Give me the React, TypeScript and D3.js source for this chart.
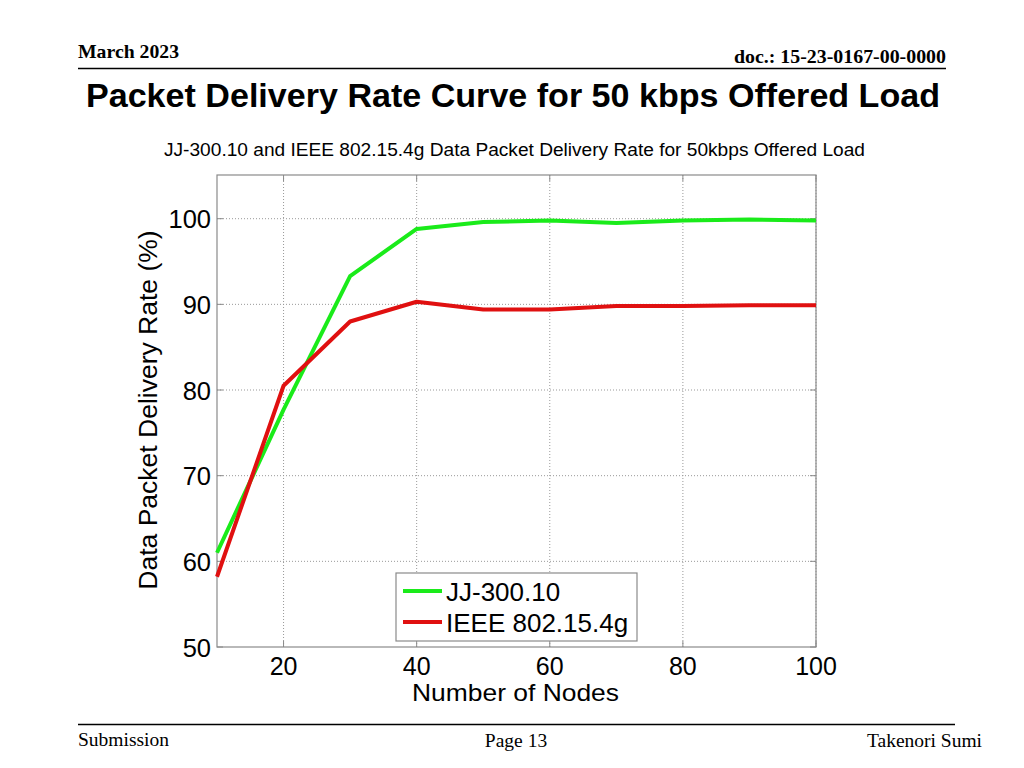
import React from "react";
import * as d3 from "d3";

const nodes = [10, 20, 30, 40, 50, 60, 70, 80, 90, 100];
const jjRate = [61.0, 77.7, 93.3, 98.8, 99.6, 99.8, 99.5, 99.8, 99.9, 99.8];
const ieeeRate = [58.2, 80.5, 88.0, 90.3, 89.4, 89.4, 89.8, 89.8, 89.9, 89.9];
const xTicks = [20, 40, 60, 80, 100];
const yTicks = [50, 60, 70, 80, 90, 100];
const seriesNames = ["JJ-300.10", "IEEE 802.15.4g"];
const seriesColors = ["#1aeb1a", "#e01010"];

export default function App() {
  const W = 1024, H = 768;
  const left = 217, right = 816, top = 175, bottom = 647;
  const x = d3.scaleLinear().domain([10, 100]).range([left, right]);
  const y = d3.scaleLinear().domain([50, 105.1]).range([bottom, top]);
  const line = d3.line<number>().x((_, i) => x(nodes[i])).y((d) => y(d));
  const series = [jjRate, ieeeRate];
  const serif = "'Liberation Serif', 'Times New Roman', serif";
  const sans = "'Liberation Sans', Arial, sans-serif";
  const frame = "#8a8a8a";

  return (
    <svg width={W} height={H} style={{ position: "absolute", left: 0, top: 0, background: "#fff" }}>
      {/* header */}
      <text x={78} y={58} fontFamily={serif} fontWeight="bold" fontSize={19} textLength={101} lengthAdjust="spacingAndGlyphs">March 2023</text>
      <text x={734} y={63} fontFamily={serif} fontWeight="bold" fontSize={19} textLength={212} lengthAdjust="spacingAndGlyphs">doc.: 15-23-0167-00-0000</text>
      <line x1={78} x2={946} y1={68.5} y2={68.5} stroke="#000" strokeWidth={1.5} />
      <text x={86} y={107} fontFamily={sans} fontWeight="bold" fontSize={33} textLength={854} lengthAdjust="spacingAndGlyphs">
        Packet Delivery Rate Curve for 50 kbps Offered Load
      </text>
      <text x={164} y={156} fontFamily={sans} fontSize={17.5} textLength={701} lengthAdjust="spacingAndGlyphs">
        JJ-300.10 and IEEE 802.15.4g Data Packet Delivery Rate for 50kbps Offered Load
      </text>

      {/* grid */}
      {xTicks.map((t) => (
        <line key={"gx" + t} x1={x(t)} x2={x(t)} y1={top} y2={bottom} stroke="#999" strokeDasharray="1,2" strokeWidth={1} />
      ))}
      {yTicks.filter((t) => t > 50).map((t) => (
        <line key={"gy" + t} x1={left} x2={right} y1={y(t)} y2={y(t)} stroke="#999" strokeDasharray="1,2" strokeWidth={1} />
      ))}

      {/* frame */}
      <rect x={left} y={top} width={right - left} height={bottom - top} fill="none" stroke={frame} strokeWidth={1.2} />
      {/* ticks */}
      {xTicks.map((t) => (
        <g key={"tx" + t}>
          <line x1={x(t)} x2={x(t)} y1={bottom} y2={bottom - 6} stroke={frame} />
          <line x1={x(t)} x2={x(t)} y1={top} y2={top + 6} stroke={frame} />
          <text x={x(t)} y={674.5} textAnchor="middle" fontFamily={sans} fontSize={25}>{t}</text>
        </g>
      ))}
      {yTicks.map((t) => (
        <g key={"ty" + t}>
          <line x1={left} x2={left + 6} y1={y(t)} y2={y(t)} stroke={frame} />
          <line x1={right} x2={right - 6} y1={y(t)} y2={y(t)} stroke={frame} />
          <text x={211} y={y(t) + 9.5} textAnchor="end" fontFamily={sans} fontSize={25.5}>{t}</text>
        </g>
      ))}

      {/* series */}
      {series.map((s, i) => (
        <path key={"s" + i} d={line(s) || ""} fill="none" stroke={seriesColors[i]} strokeWidth={4} strokeLinejoin="round" />
      ))}

      {/* axis labels */}
      <text x={412} y={701} fontFamily={sans} fontSize={24} textLength={207} lengthAdjust="spacingAndGlyphs">Number of Nodes</text>
      <text transform="translate(157,410) rotate(-90)" textAnchor="middle" fontFamily={sans} fontSize={26.5}>
        Data Packet Delivery Rate (%)
      </text>

      {/* legend */}
      <rect x={396} y={573} width={241} height={68} fill="#fff" stroke={frame} strokeWidth={1.2} />
      {seriesNames.map((n, i) => (
        <g key={"l" + i}>
          <line x1={403} x2={442} y1={591 + i * 31} y2={591 + i * 31} stroke={seriesColors[i]} strokeWidth={4} />
          <text x={446} y={600.5 + i * 31} fontFamily={sans} fontSize={26}>{n}</text>
        </g>
      ))}

      {/* footer */}
      <line x1={78} x2={955} y1={724.5} y2={724.5} stroke="#000" strokeWidth={1.5} />
      <text x={78} y={746} fontFamily={serif} fontSize={19.5}>Submission</text>
      <text x={516} y={747} textAnchor="middle" fontFamily={serif} fontSize={19.5}>Page 13</text>
      <text x={982} y={747} textAnchor="end" fontFamily={serif} fontSize={19.5}>Takenori Sumi</text>
    </svg>
  );
}
